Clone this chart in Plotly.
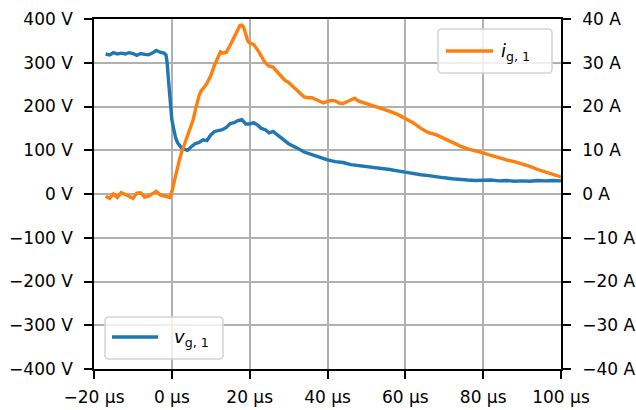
import plotly.graph_objects as go

# time in µs
t_v = [-17, -16, -15, -14, -13, -12, -11, -10, -9, -8, -7, -6, -5, -4, -3, -2, -1.5, -1.2, -0.9, -0.6,
       -0.3, 0, 0.5, 1, 1.5, 2, 2.5, 3, 3.5, 4, 5, 6, 7, 8, 9, 10, 11, 12, 13, 14, 15, 16, 17, 18, 19,
       20, 21, 22, 23, 24, 25, 26, 27, 28, 30, 32, 34, 36, 38, 40, 42, 44, 46, 48, 50, 52, 54, 56, 58,
       60, 62, 64, 66, 68, 70, 72, 74, 76, 78, 80, 82, 84, 86, 88, 90, 92, 94, 96, 98, 100]
v_g1 = [320, 318, 323, 320, 322, 320, 323, 321, 317, 321, 319, 318, 322, 328, 324, 322, 318, 300, 265, 230,
        195, 170, 148, 128, 117, 110, 105, 103, 101, 100, 108, 115, 118, 124, 122, 135, 143, 145, 147, 152,
        161, 163, 168, 170, 160, 160, 163, 158, 150, 147, 140, 143, 136, 127, 115, 106, 96, 90, 83, 78,
        74, 72, 67, 65, 63, 60, 59, 56, 53, 50, 46, 44, 42, 39, 37, 35, 33, 32, 31, 31, 32, 30, 31, 29,
        30, 29, 31, 30, 31, 30]

t_i = [-17, -16, -15, -14, -13, -12, -11, -10, -9, -8, -7, -6, -5, -4, -3, -2, -1, -0.5, 0, 0.5, 1,
       1.5, 2, 2.5, 3, 3.5, 4, 4.5, 5, 5.5, 6, 6.5, 7, 7.5, 8, 8.5, 9, 10, 11, 12, 12.5, 13, 14, 15, 16,
       17, 17.5, 18, 18.5, 19, 19.5, 20, 21, 22, 23, 24, 25, 26, 27, 28, 29, 30, 31, 32, 33, 34, 35, 36,
       37, 38, 39, 40, 41, 42, 43, 44, 45, 46, 47, 48, 49, 50, 51, 52, 54, 56, 58, 60, 62, 64, 66, 68,
       70, 72, 74, 76, 78, 80, 82, 84, 86, 88, 90, 92, 94, 96, 98, 100]
i_g1 = [-0.5, -1, 0, -0.8, 0.3, 0, -0.5, -1, 0.2, 0.3, -0.7, -0.5, 0.1, 0.6, -0.2, -0.5, -0.6, -0.8, 0.5,
        2.5, 4.5, 6.3, 8, 9.5, 10.7, 12, 13.3, 14.5, 15.6, 17, 19, 21, 22.5, 23.5, 24, 24.6, 25.3, 27,
        29.5, 31.5, 32.5, 32.2, 32.4, 34, 35.8, 37.5, 38.5, 38.6, 38, 36.5, 35, 34.5, 34.2, 33, 31.5, 30,
        29.2, 29, 28, 27, 26, 25.5, 24.7, 24, 23, 22.2, 22, 22, 21.6, 21.2, 20.8, 21.2, 21.4, 21.3, 20.8,
        20.7, 21.1, 21.5, 21.9, 21.2, 21, 20.7, 20.4, 20.1, 19.6, 18.9, 18.2, 17.2, 16.3, 15, 14, 13.5,
        12.6, 11.9, 11, 10.3, 9.9, 9.4, 8.8, 8.2, 7.8, 7.4, 6.9, 6.3, 5.6, 5, 4.5, 3.9]

x_ticks = [-20, 0, 20, 40, 60, 80, 100]
x_labels = ["\u221220 µs", "0 µs", "20 µs", "40 µs", "60 µs", "80 µs", "100 µs"]
v_ticks = [-400, -300, -200, -100, 0, 100, 200, 300, 400]
v_labels = ["\u2212400 V", "\u2212300 V", "\u2212200 V", "\u2212100 V", "0 V", "100 V", "200 V", "300 V", "400 V"]
i_ticks = [-40, -30, -20, -10, 0, 10, 20, 30, 40]
i_labels = ["\u221240 A", "\u221230 A", "\u221220 A", "\u221210 A", "0 A", "10 A", "20 A", "30 A", "40 A"]

series_names = ["<i>v</i><sub>g, 1</sub>", "<i>i</i><sub>g, 1</sub>"]
series_colors = ["#1f77b4", "#ff7f0e"]

FONT = "DejaVu Sans"
FS = 17
W, H = 636, 410
ML, MR, MT, MB = 94, 75, 19, 41
PW, PH = W - ML - MR, H - MT - MB


def px(x):
    return (x - ML) / PW


def py(y):
    return (H - MB - y) / PH


def rounded_box(x0, y0, x1, y1, r=4):
    # pixel box -> paper path with rounded corners
    rx, ry = r / PW, r / PH
    a, b, c, d = px(x0), py(y1), px(x1), py(y0)  # a<c, b<d (paper y up)
    return (f"M{a+rx},{b} L{c-rx},{b} Q{c},{b} {c},{b+ry} L{c},{d-ry} Q{c},{d} {c-rx},{d} "
            f"L{a+rx},{d} Q{a},{d} {a},{d-ry} L{a},{b+ry} Q{a},{b} {a+rx},{b} Z")


fig = go.Figure()
fig.add_trace(go.Scatter(x=t_v, y=v_g1, mode="lines", name=series_names[0], showlegend=False,
                         line=dict(color=series_colors[0], width=3.4), yaxis="y"))
fig.add_trace(go.Scatter(x=t_i, y=i_g1, mode="lines", name=series_names[1], showlegend=False,
                         line=dict(color=series_colors[1], width=3.4), yaxis="y2"))

# legend boxes drawn as shapes + real text
legend_specs = [
    dict(box=(105, 317, 223, 359), line=(112, 158, 337), text_x=172),
    dict(box=(438, 29, 552, 73), line=(446, 493, 51), text_x=499),
]
shapes = []
annotations = []
for k, spec in enumerate(legend_specs):
    bx0, by0, bx1, by1 = spec["box"]
    shapes.append(dict(type="path", xref="paper", yref="paper", path=rounded_box(bx0, by0, bx1, by1),
                       fillcolor="rgba(255,255,255,0.8)", line=dict(color="#d4d4d4", width=1.5),
                       layer="above"))
    lx0, lx1, ly = spec["line"]
    shapes.append(dict(type="line", xref="paper", yref="paper", x0=px(lx0), x1=px(lx1), y0=py(ly), y1=py(ly),
                       line=dict(color=series_colors[k], width=3.4), layer="above"))
    annotations.append(dict(xref="paper", yref="paper", x=px(spec["text_x"]), y=py(ly + 1),
                            xanchor="left", yanchor="middle", showarrow=False, text=series_names[k],
                            font=dict(family=FONT, size=FS + 1, color="black")))

axis_common = dict(showgrid=True, gridcolor="#b0b0b0", gridwidth=1.5, zeroline=False,
                   showline=True, linecolor="black", linewidth=1.5, ticks="outside",
                   ticklen=8, tickwidth=1.5, tickcolor="black", automargin=False,
                   tickfont=dict(family=FONT, size=FS, color="black"))

fig.update_layout(
    width=W, height=H,
    margin=dict(l=ML, r=MR, t=MT, b=MB),
    plot_bgcolor="white", paper_bgcolor="white",
    font=dict(family=FONT, size=FS, color="black"),
    showlegend=False,
    xaxis=dict(range=[-20, 100], tickvals=x_ticks, ticktext=x_labels, mirror=True,
               ticklabelstandoff=4, **axis_common),
    yaxis=dict(range=[-400, 400], tickvals=v_ticks, ticktext=v_labels,
               ticklabelstandoff=8, **axis_common),
    yaxis2=dict(range=[-40, 40], tickvals=i_ticks, ticktext=i_labels, overlaying="y", side="right",
                ticklabelstandoff=8, **{**axis_common, "showgrid": False}),
    shapes=shapes,
    annotations=annotations,
)

fig.write_html("out.html")
